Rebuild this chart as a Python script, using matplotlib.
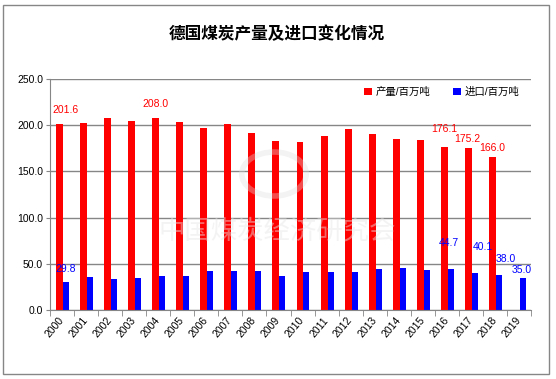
import numpy as np
import matplotlib.pyplot as plt
from matplotlib.patches import Rectangle, Circle

plt.rcParams['font.family'] = ['Liberation Sans', 'Noto Sans CJK SC', 'DejaVu Sans']

# Data (million tonnes)
years = [str(y) for y in range(2000, 2020)]
output = [201.6, 202.7, 208.1, 204.8, 208.0, 203.0, 197.3, 201.6, 191.8, 183.2,
          182.1, 188.6, 196.2, 190.8, 185.3, 184.2, 176.1, 175.2, 166.0, np.nan]
imports = [29.8, 35.8, 33.6, 34.7, 36.8, 36.8, 42.3, 42.3, 42.3, 36.8,
           41.2, 41.2, 41.2, 44.4, 45.5, 43.4, 44.7, 40.1, 38.0, 35.0]

# which bars carry a value label, with label shift in pixels (dx, dy)
red_labels = {0: (6, 14), 4: (0, 14), 16: (0, 18), 17: (-1, 9), 18: (0, 9)}
blue_labels = {0: (0, 13), 16: (-2, 26), 17: (8, 26), 18: (7, 16), 19: (-1, 8)}

fig = plt.figure(figsize=(5.56, 3.79), dpi=100)
ax = fig.add_axes([50/556, 1-310/379, 481/556, 231/379])

x = np.arange(len(years))
ax.bar(x - 0.105, output, width=0.29, color='#ff0000', label='产量/百万吨', zorder=2)
ax.bar(x + 0.165, imports, width=0.25, color='#0000ff', label='进口/百万吨', zorder=2)

px = 72 / 100
for i, (dx, dy) in red_labels.items():
    ax.annotate(f'{output[i]:.1f}', (x[i] - 0.105, output[i]), xytext=(dx*px, dy*px),
                textcoords='offset points', ha='center', va='center',
                color='#ff0000', fontsize=7.5, zorder=4)
for i, (dx, dy) in blue_labels.items():
    ax.annotate(f'{imports[i]:.1f}', (x[i] + 0.165, imports[i]), xytext=(dx*px, dy*px),
                textcoords='offset points', ha='center', va='center',
                color='#0000ff', fontsize=7.5, zorder=4)

ax.set_xlim(-0.5, len(years) - 0.5)
ax.set_ylim(0, 250)
ax.set_yticks(np.arange(0, 251, 50))
ax.set_yticklabels([f'{v:.1f}' for v in range(0, 251, 50)], fontsize=7.5)
ax.yaxis.grid(True, color='#868686', linewidth=1, zorder=0)
ax.set_axisbelow(True)

ax.set_xticks(x)
ax.set_xticklabels(years, rotation=50, ha='right', va='center',
                   rotation_mode='anchor', fontsize=7.5)
ax.tick_params(axis='x', length=0, pad=6)
ax.set_xticks(np.arange(-0.5, len(years), 1), minor=True)
ax.tick_params(axis='x', which='minor', length=4, color='#868686')
ax.tick_params(axis='y', length=3, color='#868686', pad=2)

for s in ['top', 'right']:
    ax.spines[s].set_visible(False)
for s in ['left', 'bottom']:
    ax.spines[s].set_color('#868686')

ax.legend(loc='center', bbox_to_anchor=(0.815, 0.944), ncol=2, frameon=False,
          fontsize=7.5, handlelength=0.7, handleheight=0.7, handletextpad=0.4,
          columnspacing=2.2, borderaxespad=0)

# faint watermark
fig.text(277/556, 1-231/379, '中国煤炭经济研究会', fontsize=19, color='#e6e6e6',
         alpha=0.45, ha='center', va='center', zorder=5)
fig.patches.append(Circle((274/556, 1-174/379), 0.058, transform=fig.transFigure,
                          facecolor='none', edgecolor='#dddddd', linewidth=4,
                          alpha=0.35, zorder=5))

fig.text(277/556, 1-34/379, '德国煤炭产量及进口变化情况', fontsize=12,
         fontweight='bold', ha='center', va='center')

fig.patches.append(Rectangle((3/556, 5/379), 546/556, 369/379, transform=fig.transFigure,
                             facecolor='none', edgecolor='#868686', linewidth=1))

fig.savefig('out.png', dpi=100)
